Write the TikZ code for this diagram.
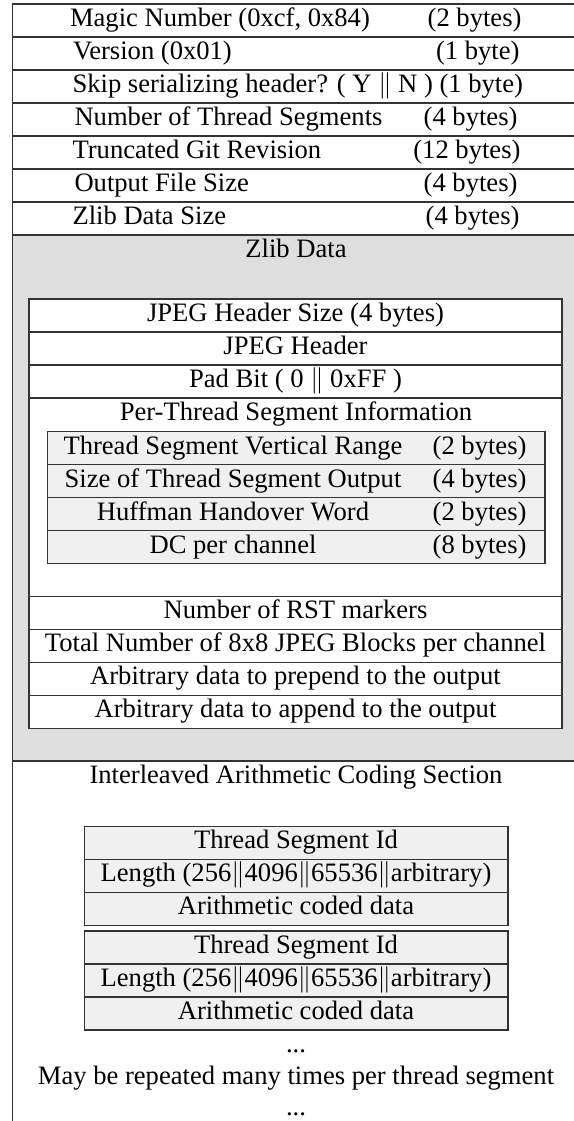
\documentclass[tikz,border=0pt]{standalone}
\usepackage{fontspec}
\setmainfont{Liberation Serif}
\usepackage{amsmath}
\definecolor{zlibgray}{gray}{0.87}
\definecolor{segfill}{gray}{0.94}
\definecolor{rulegray}{gray}{0.2}

\begin{document}
\begin{tikzpicture}[x=0.376pt, y=-0.376pt,
   every node/.style={inner sep=0pt},
   row/.style={draw=rulegray, fill=white, minimum height=12.41pt, text height=7pt, text depth=2.5pt},
   hdrrow/.style={row, minimum width=213pt},
   zrow/.style={row, minimum width=200.4pt},
   segrow/.style={row, fill=segfill, minimum width=187pt},
   arow/.style={row, fill=segfill, minimum width=159.4pt}]
   \useasboundingbox (0,0) rectangle (574,1121);
   \clip (0,0) rectangle (574,1121);

   \node [hdrrow] (magic) at (295.75,20.5) {};
   \node [hdrrow] (version) at (295.75,53.5) {};
   \node [hdrrow] (skip) at (295.75,86.5) {};
   \node [hdrrow] (nsegs) at (295.75,119.5) {};
   \node [hdrrow] (gitrev) at (295.75,152.5) {};
   \node [hdrrow] (outsize) at (295.75,185.5) {};
   \node [hdrrow] (zsize) at (295.75,218.5) {};

   \node [anchor=base west] (magicT) at (69.5,26.5) {Magic Number (0xcf, 0x84)};
   \node [anchor=base east] (magicB) at (522,26.5) {(2 bytes)};
   \node [anchor=base west] (versionT) at (72.5,59.5) {Version (0x01)};
   \node [anchor=base east] (versionB) at (520,59.5) {(1 byte)};
   \node [anchor=base west] (skipT) at (72,92.5) {Skip serializing header? ( Y $\|$ N ) (1 byte)};
   \node [anchor=base west] (nsegsT) at (74,125.5) {Number of Thread Segments};
   \node [anchor=base east] (nsegsB) at (518,125.5) {(4 bytes)};
   \node [anchor=base west] (gitrevT) at (72,158.5) {Truncated Git Revision};
   \node [anchor=base east] (gitrevB) at (521,158.5) {(12 bytes)};
   \node [anchor=base west] (outsizeT) at (74,191.5) {Output File Size};
   \node [anchor=base east] (outsizeB) at (518,191.5) {(4 bytes)};
   \node [anchor=base west] (zsizeT) at (72,224.5) {Zlib Data Size};
   \node [anchor=base east] (zsizeB) at (520,224.5) {(4 bytes)};

   \node [draw=rulegray, fill=zlibgray, minimum width=213pt, minimum height=197.8pt] (zlib) at (295.75,498) {};
   \node [anchor=base] (zlibT) at (296,257.5) {Zlib Data};

   \node [zrow] (jpgsize) at (295.5,315.5) {JPEG Header Size (4 bytes)};
   \node [zrow] (jpghdr) at (295.5,348.5) {JPEG Header};
   \node [zrow] (padbit) at (295.5,381.5) {Pad Bit ( 0 $\|$ 0xFF )};
   \node [zrow, minimum height=74.6pt] (perseg) at (295.5,497.25) {};
   \node [anchor=base] (persegT) at (296,420.5) {Per-Thread Segment Information};
   \node [zrow] (rst) at (295.5,613) {Number of RST markers};
   \node [zrow] (nblocks) at (295.5,646) {Total Number of 8x8 JPEG Blocks per channel};
   \node [zrow] (prepend) at (295.5,679) {Arbitrary data to prepend to the output};
   \node [zrow] (append) at (295.5,712) {Arbitrary data to append to the output};

   \node [segrow] (vrange) at (296.3,448) {};
   \node [segrow] (segout) at (296.3,481) {};
   \node [segrow] (handover) at (296.3,514) {};
   \node [segrow] (dcchan) at (296.3,547) {};
   \node [anchor=base] (vrangeT) at (233,454) {Thread Segment Vertical Range};
   \node [anchor=base east] (vrangeB) at (527,454) {(2 bytes)};
   \node [anchor=base] (segoutT) at (233,487) {Size of Thread Segment Output};
   \node [anchor=base east] (segoutB) at (527,487) {(4 bytes)};
   \node [anchor=base] (handoverT) at (233,520) {Huffman Handover Word};
   \node [anchor=base east] (handoverB) at (527,520) {(2 bytes)};
   \node [anchor=base] (dcchanT) at (233,553) {DC per channel};
   \node [anchor=base east] (dcchanB) at (527,553) {(8 bytes)};

   \node [draw=rulegray, fill=white, minimum width=213pt, minimum height=142.5pt] (arith) at (295.75,950.5) {};
   \node [anchor=base] (arithT) at (296,783.5) {Interleaved Arithmetic Coding Section};

   \node [arow] (segidA) at (296,843) {Thread Segment Id};
   \node [arow] (lenA) at (296,876) {Length (256$\|$4096$\|$65536$\|$arbitrary)};
   \node [arow] (dataA) at (296,909) {Arithmetic coded data};
   \node [arow] (segidB) at (296,947.5) {Thread Segment Id};
   \node [arow] (lenB) at (296,980.5) {Length (256$\|$4096$\|$65536$\|$arbitrary)};
   \node [arow] (dataB) at (296,1013.5) {Arithmetic coded data};

   \node [anchor=base] (dotsA) at (296,1052) {...};
   \node [anchor=base] (repeat) at (296,1084) {May be repeated many times per thread segment};
   \node [anchor=base] (dotsB) at (296,1115) {...};
\end{tikzpicture}
\end{document}
